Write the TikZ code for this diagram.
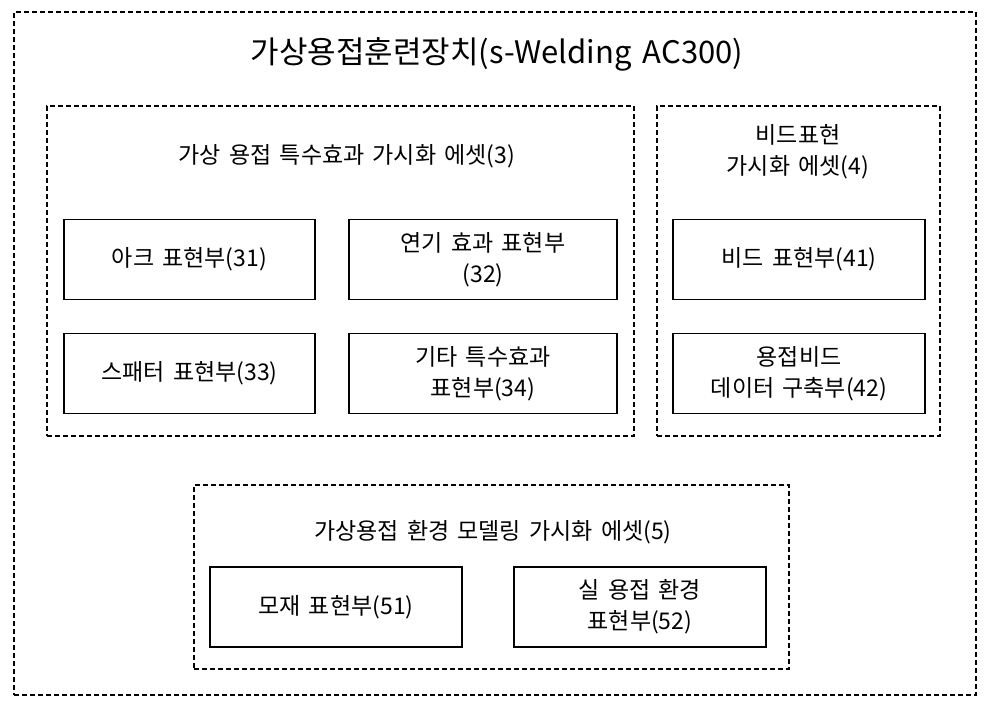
\documentclass[tikz,border=0pt]{standalone}
\usepackage{fontspec}
\setmainfont{Noto Sans CJK KR}[WordSpace=1.6]
\usetikzlibrary{positioning}
\tikzset{
  group/.style={draw, dash pattern=on 5pt off 3pt, line width=1.2pt, inner sep=0pt},
  unit/.style={draw, line width=1.2pt, fill=white, align=center, font=\fontsize{23}{31}\selectfont,
    minimum width=252pt, minimum height=80pt, inner sep=0pt},
  grouptitle/.style={align=center, font=\fontsize{23}{31}\selectfont},
}
\begin{document}
\begin{tikzpicture}[x=1pt, y=-1pt]
\useasboundingbox (0,0) rectangle (987,701);

% outer frame
\node[group, minimum width=962pt, minimum height=683pt] (outer) at (495,353.5) {};
\node[font=\fontsize{31}{36}\selectfont] (title) at (497,54) {가상용접훈련장치(s-Welding AC300)};

% group 3: special effects
\node[group, minimum width=587pt, minimum height=330pt] (g3) at (340.5,271) {};
\node[grouptitle] (g3t) at (347,156) {가상 용접 특수효과 가시화 에셋(3)};
\node[unit, minimum width=251pt] (u31) at (189.5,259.5) {아크 표현부(31)};
\node[unit, minimum width=268pt] (u32) at (483,259.5) {연기 효과 표현부\\(32)};
\node[unit, minimum width=251pt] (u33) at (189.5,373.5) {스패터 표현부(33)};
\node[unit, minimum width=268pt] (u34) at (483,373.5) {기타 특수효과\\표현부(34)};

% group 4: bead
\node[group, minimum width=283pt, minimum height=330pt] (g4) at (798.5,271) {};
\node[grouptitle] (g4t) at (798,152) {비드표현\\가시화 에셋(4)};
\node[unit] (u41) at (799,259.5) {비드 표현부(41)};
\node[unit] (u42) at (799,373.5) {용접비드\\데이터 구축부(42)};

% group 5: environment
\node[group, minimum width=595pt, minimum height=184pt] (g5) at (491.5,577) {};
\node[grouptitle] (g5t) at (493,532) {가상용접 환경 모델링 가시화 에셋(5)};
\node[unit] (u51) at (336,607) {모재 표현부(51)};
\node[unit] (u52) at (640,607) {실 용접 환경\\표현부(52)};

\end{tikzpicture}
\end{document}
